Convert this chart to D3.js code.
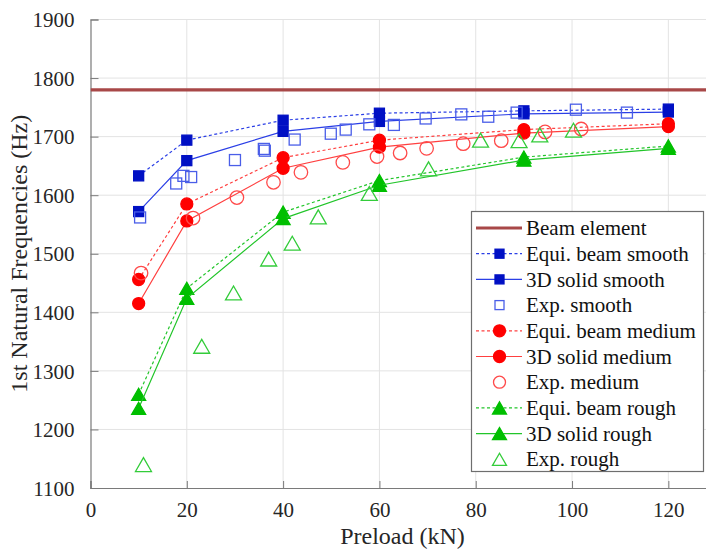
<!DOCTYPE html>
<html>
<head>
<meta charset="utf-8">
<script src="https://cdn.jsdelivr.net/npm/d3@7/dist/d3.min.js"></script>
<style>
  html, body { margin: 0; padding: 0; background: #fff; }
  svg { display: block; font-family: "Liberation Serif", "Times New Roman", serif; }
</style>
</head>
<body>
<svg id="chart" width="706" height="550"></svg>
<script>
// Preload levels used by the two numerical models
const preload = [10, 20, 40, 60, 90, 120];

// Reference value from the plain beam-element model (Hz)
const beamElement = 1780;

// Numerical results (Hz) per surface roughness
const equiSmooth  = [1633, 1694, 1728, 1740, 1744, 1747];
const solidSmooth = [1572, 1659, 1709, 1726, 1739, 1742];
const equiMedium  = [1456, 1585, 1664, 1694, 1712, 1722];
const solidMedium = [1415, 1556, 1646, 1682, 1706, 1717];
const equiRough   = [1260, 1441, 1571, 1625, 1665, 1684];
const solidRough  = [1236, 1424, 1560, 1617, 1660, 1680];

// Experimental measurements: [preload kN, frequency Hz]
const expSmooth = [[10.3,1562],[17.8,1620],[19.3,1633],[20.9,1631],[30,1660],[36,1679],[36.2,1676],
  [42.4,1695],[49.9,1705],[53,1712],[57.9,1721],[63,1720],[69.6,1731],[77,1738],[82.6,1734],
  [88.5,1741],[100.8,1746],[111.4,1741]];
const expMedium = [[10.5,1467],[21.3,1561],[30.4,1596],[38,1622],[43.7,1639],[52.4,1656],[59.5,1666],
  [64.3,1672],[69.8,1680],[77.4,1688],[85.3,1693],[94.4,1708],[101.9,1713]];
const expRough = [[11,1140],[23.1,1342],[29.7,1433],[37,1491],[41.9,1518],[47.3,1563],[57.9,1603],
  [70.2,1645],[81,1694],[89,1693],[93.3,1703],[100.3,1711]];

// Axis ticks
const xTicks = [0, 20, 40, 60, 80, 100, 120];
const yTicks = [1100, 1200, 1300, 1400, 1500, 1600, 1700, 1800, 1900];

const svg = d3.select("#chart");
const mLeft = 90.5, mTop = 19.5, mBottom = 488, mRight = 716.5;

const x = d3.scaleLinear().domain([0, 130]).range([mLeft, mRight]);
const y = d3.scaleLinear().domain([1100, 1900]).range([mBottom, mTop]);

// grid
const grid = svg.append("g").attr("stroke", "#e3e3e3").attr("stroke-width", 1);
xTicks.filter(d => d > 0).forEach(d => grid.append("line")
  .attr("x1", x(d)).attr("x2", x(d)).attr("y1", mTop).attr("y2", mBottom));
yTicks.filter(d => d > 1100).forEach(d => grid.append("line")
  .attr("x1", mLeft).attr("x2", mRight).attr("y1", y(d)).attr("y2", y(d)));

// axes (ticks pointing inward)
const axisColor = "#7a7a7a";
const xAxis = svg.append("g").attr("transform", `translate(0,${mBottom})`)
  .call(d3.axisBottom(x).tickValues(xTicks).tickSize(-7).tickPadding(14).tickFormat(d3.format("d")));
const yAxis = svg.append("g").attr("transform", `translate(${mLeft},0)`)
  .call(d3.axisLeft(y).tickValues(yTicks).tickSize(-8).tickPadding(16).tickFormat(d3.format("d")));
[xAxis, yAxis].forEach(a => {
  a.select(".domain").attr("stroke", axisColor).attr("stroke-width", 1.2);
  a.selectAll(".tick line").attr("stroke", axisColor).attr("stroke-width", 1);
  a.selectAll(".tick text").attr("fill", "#262626").attr("font-size", 21)
    .attr("font-family", "Liberation Serif, Times New Roman, serif");
});
xAxis.selectAll(".tick text").attr("dy", "0.71em");
yAxis.selectAll(".tick text").attr("dy", "0.34em");

// axis titles
svg.append("text").attr("x", (mLeft + mRight) / 2 - 1).attr("y", 544)
  .attr("text-anchor", "middle").attr("font-size", 24).attr("fill", "#262626")
  .text("Preload (kN)");
svg.append("text").attr("transform", `translate(27,${(mTop + mBottom) / 2}) rotate(-90)`)
  .attr("text-anchor", "middle").attr("font-size", 24).attr("fill", "#262626")
  .text("1st Natural Frequencies (Hz)");

// marker shapes
function drawMarker(g, type, cx, cy, fill, stroke, s) {
  if (type === "square") {
    g.append("rect").attr("x", cx - s / 2).attr("y", cy - s / 2).attr("width", s).attr("height", s)
      .attr("fill", fill).attr("stroke", stroke).attr("stroke-width", 1.3);
  } else if (type === "circle") {
    g.append("circle").attr("cx", cx).attr("cy", cy).attr("r", s / 2)
      .attr("fill", fill).attr("stroke", stroke).attr("stroke-width", 1.3);
  } else {
    const h = s * 0.87;
    g.append("path")
      .attr("d", `M${cx},${cy - h / 2}L${cx + s / 2},${cy + h / 2}L${cx - s / 2},${cy + h / 2}Z`)
      .attr("fill", fill).attr("stroke", stroke).attr("stroke-width", 1.3).attr("stroke-linejoin", "miter");
  }
}

svg.append("clipPath").attr("id", "plotClip").append("rect")
  .attr("x", mLeft).attr("y", mTop - 10).attr("width", mRight - mLeft).attr("height", mBottom - mTop + 10);
const plot = svg.append("g").attr("clip-path", "url(#plotClip)");

const lineGen = d3.line().x(d => x(d[0])).y(d => y(d[1]));

const series = [
  { name: "Beam element", kind: "hline" },
  { name: "Equi. beam smooth",  vals: equiSmooth,  line: "#2b3fe6", dash: "3,2.5", marker: "square",   fill: "#0010c4", stroke: "#0010c4", size: 10 },
  { name: "3D solid smooth",    vals: solidSmooth, line: "#2b3fe6", dash: null,    marker: "square",   fill: "#0010c4", stroke: "#0010c4", size: 10 },
  { name: "Exp. smooth",        pts: expSmooth,    marker: "square",   fill: "none", stroke: "#4a5ee8", size: 11 },
  { name: "Equi. beam medium",  vals: equiMedium,  line: "#ff4040", dash: "3,2.5", marker: "circle",   fill: "#ff0000", stroke: "#ff0000", size: 12 },
  { name: "3D solid medium",    vals: solidMedium, line: "#ff4040", dash: null,    marker: "circle",   fill: "#ff0000", stroke: "#ff0000", size: 12 },
  { name: "Exp. medium",        pts: expMedium,    marker: "circle",   fill: "none", stroke: "#ff4a4a", size: 13.5 },
  { name: "Equi. beam rough",   vals: equiRough,   line: "#22c52a", dash: "3,2.5", marker: "triangle", fill: "#00bf00", stroke: "#00bf00", size: 14 },
  { name: "3D solid rough",     vals: solidRough,  line: "#22c52a", dash: null,    marker: "triangle", fill: "#00bf00", stroke: "#00bf00", size: 14 },
  { name: "Exp. rough",         pts: expRough,     marker: "triangle", fill: "none", stroke: "#33cc3a", size: 16 }
];

series.forEach(s => {
  if (s.kind === "hline") {
    plot.append("line").attr("x1", mLeft).attr("x2", mRight)
      .attr("y1", y(beamElement)).attr("y2", y(beamElement))
      .attr("stroke", "#a84848").attr("stroke-width", 3.2);
    return;
  }
  const g = plot.append("g");
  if (s.vals) {
    const pts = preload.map((p, i) => [p, s.vals[i]]);
    g.append("path").attr("d", lineGen(pts)).attr("fill", "none")
      .attr("stroke", s.line).attr("stroke-width", 1.2)
      .attr("stroke-dasharray", s.dash);
    pts.forEach(p => drawMarker(g, s.marker, x(p[0]), y(p[1]), s.fill, s.stroke, s.size));
  } else {
    s.pts.forEach(p => drawMarker(g, s.marker, x(p[0]), y(p[1]), s.fill, s.stroke, s.size));
  }
});

// legend
const lg = svg.append("g");
const lx = 471.5, ly = 211.5, lw = 232, lh = 260, rowH = 25.7;
lg.append("rect").attr("x", lx).attr("y", ly).attr("width", lw).attr("height", lh)
  .attr("fill", "#fff").attr("stroke", "#6e6e6e").attr("stroke-width", 1.2);
series.forEach((s, i) => {
  const cy = ly + 16.5 + i * rowH;
  const row = lg.append("g");
  if (s.kind === "hline") {
    row.append("line").attr("x1", 476).attr("x2", 522).attr("y1", cy).attr("y2", cy)
      .attr("stroke", "#a84848").attr("stroke-width", 3.2);
  } else {
    if (s.vals) {
      row.append("line").attr("x1", 476).attr("x2", 522).attr("y1", cy).attr("y2", cy)
        .attr("stroke", s.line).attr("stroke-width", 1.2).attr("stroke-dasharray", s.dash);
    }
    const ms = s.marker === "square" ? 9 : (s.marker === "circle" ? 12 : 14);
    drawMarker(row, s.marker, 499.5, cy, s.fill, s.stroke, ms);
  }
  row.append("text").attr("x", 526).attr("y", cy).attr("dy", "0.34em")
    .attr("font-size", 21).attr("fill", "#111").text(s.name);
});
</script>
</body>
</html>
